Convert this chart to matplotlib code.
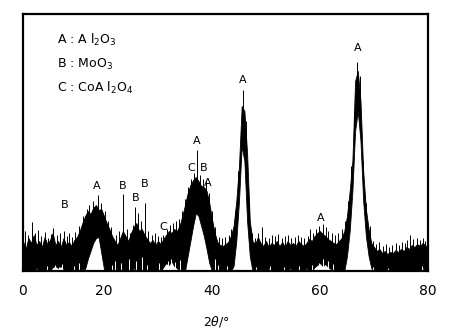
import numpy as np
import matplotlib
matplotlib.use('Agg')
import matplotlib.pyplot as plt

# 2theta grid (deg) and intensity envelopes
two_theta = np.arange(5.0, 80.5, 0.5)

upper = [30, 22, 33, 28, 36, 26, 30, 24, 34, 27,
         31, 38, 26, 30, 24, 33, 26, 29, 25, 31,
         34, 40, 48, 55, 60, 57, 63, 66, 61, 62,
         55, 48, 42, 35, 30, 26, 33, 40, 35, 30,
         38, 44, 48, 40, 42, 36, 32, 28, 31, 26,
         30, 27, 32, 36, 40, 38, 42, 40, 45, 55,
         66, 78, 86, 91, 94, 90, 85, 84, 80, 68,
         52, 38, 29, 26, 25, 27, 29, 35, 45, 70,
         105, 165, 160, 118, 50, 30, 27, 34, 28, 25,
         30, 24, 28, 26, 30, 25, 29, 24, 30, 26,
         28, 25, 30, 27, 25, 28, 32, 30, 35, 38,
         40, 37, 35, 32, 30, 28, 27, 30, 33, 40,
         55, 80, 110, 190, 200, 170, 100, 62, 42, 28,
         24, 20, 22, 18, 20, 17, 19, 18, 21, 19,
         22, 20, 24, 22, 26, 24, 27, 25, 28, 26,
         22]

lower = [0, 0, 2, 0, 0, 3, 0, 0, 1, 0,
         0, 4, 5, 3, 5, 2, 0, 0, 1, 0,
         0, 0, 2, 2, 12, 20, 28, 33, 34, 18,
         2, 0, 0, 0, 3, 0, 0, 2, 0, 0,
         0, 3, 0, 0, 2, 0, 0, 0, 2, 0,
         0, 0, 4, 8, 6, 10, 5, 3, 0, 0,
         0, 15, 30, 45, 58, 55, 45, 35, 22, 8,
         0, 0, 0, 0, 2, 0, 0, 0, 5, 30,
         70, 125, 110, 50, 15, 0, 0, 0, 2, 0,
         0, 3, 0, 0, 0, 2, 0, 0, 0, 3,
         0, 0, 2, 0, 0, 3, 0, 0, 4, 6,
         8, 5, 7, 4, 2, 0, 0, 0, 0, 0,
         15, 40, 80, 140, 160, 130, 70, 35, 15, 3,
         0, 0, 0, 0, 0, 0, 0, 2, 0, 0,
         0, 0, 0, 0, 0, 0, 0, 0, 3, 0,
         0]

# sharp spikes sticking out of the noise (position, top)
spike_pos = [5.3, 5.9, 6.7, 7.2, 7.8, 8.4, 9.1, 9.7, 10.2, 10.6, 11.3, 11.8, 12.6, 13.2, 13.5, 14.1, 14.7,
             15.4, 16.2, 16.8, 17.3, 17.9, 18.8, 19.4, 20.2, 20.8, 21.3,
             22.3, 22.8, 23.5, 24.2, 24.8, 25.3, 25.8, 26.3, 26.8, 27.6, 28.2, 28.8, 29.4, 30.0, 30.6, 31.0,
             31.6, 32.2, 32.8, 33.3, 33.9, 34.4, 35.0,
             35.6, 36.1, 36.6, 37.2, 37.8, 38.3, 38.9, 39.4, 40.0, 40.6, 41.3, 41.9, 42.5, 43.1, 43.6,
             44.3, 44.9, 45.7, 46.3, 46.9, 47.4,
             48.0, 48.6, 49.3, 49.9, 50.5, 51.1, 51.7, 52.3, 52.9, 53.5, 54.1, 54.7, 55.3, 55.9, 56.5,
             57.1, 57.7, 58.1, 58.7, 59.3, 59.9, 60.5, 61.1, 61.5, 62.2, 62.8, 63.4, 64.0,
             64.6, 65.2, 65.8, 66.3, 66.9, 67.4, 68.0, 68.6, 69.2,
             69.8, 70.4, 71.0, 71.6, 72.2, 72.8, 73.4, 74.0, 74.6, 75.2, 75.8, 76.2, 76.7, 77.3, 77.9,
             78.5, 79.0, 79.5]
spike_hi = [40, 36, 49, 38, 41, 35, 39, 33, 37, 43, 36, 38, 40, 35, 38, 34, 39,
            45, 55, 62, 66, 70, 76, 68, 60, 50, 44,
            36, 40, 77, 42, 38, 46, 64, 58, 50, 68, 40, 36, 38, 35, 34, 36,
            42, 46, 48, 50, 52, 60, 72,
            84, 92, 98, 121, 96, 92, 90, 78, 60, 44, 34, 33, 34, 36, 42,
            60, 100, 181, 150, 70, 38,
            33, 38, 44, 34, 33, 36, 35, 37, 33, 35, 36, 33, 34, 36, 34,
            33, 35, 42, 38, 42, 45, 47, 44, 40, 38, 36, 38, 42,
            50, 70, 105, 160, 209, 195, 110, 68, 45,
            30, 27, 29, 25, 27, 24, 26, 28, 26, 29, 28, 31, 36, 32, 33,
            31, 33, 30]

# white slits near the baseline (position, height)
gap_pos = [9.4, 11.0, 11.7, 12.3, 14.5, 15.3, 21.5, 22.0, 23.2, 24.6, 26.0, 27.0, 28.0,
           30.2, 31.8, 32.5, 33.2, 34.0, 40.6, 41.2, 42.8, 44.0, 48.2, 50.8, 53.4, 56.2,
           58.6, 59.8, 60.6, 61.4, 62.4, 69.9, 72.6, 78.8]
gap_hi = [5, 6, 4, 7, 5, 8, 6, 10, 8, 12, 10, 14, 6,
          8, 10, 12, 9, 11, 12, 6, 5, 4, 4, 5, 4, 5,
          6, 8, 12, 10, 7, 4, 3, 5]

# phase markers
mark_text = ['B', 'A', 'B', 'B', 'B', 'C', 'C', 'B', 'A', 'A', 'A', 'A', 'A']
mark_x = [12.8, 18.7, 23.5, 25.9, 27.6, 30.9, 36.1, 38.5, 37.2, 39.3, 45.7, 60.2, 67.0]
mark_y = [66, 85, 85, 73, 87, 44, 103, 103, 130, 88, 191, 53, 223]

legend_lines = ['A : A l$_2$O$_3$', 'B : MoO$_3$', 'C : CoA l$_2$O$_4$']

fig = plt.figure(figsize=(4.68, 3.34), dpi=100)
ax = fig.add_axes([0.0491, 0.1886, 0.8654, 0.7695])

ax.fill_between(two_theta, lower, upper, color='black', linewidth=0.6, edgecolor='black')
# spikes rise from the top of the noise band, so peak interiors stay white
spike_base = np.interp(spike_pos, two_theta, upper) * 0.85
ax.vlines(spike_pos, spike_base, spike_hi, color='black', linewidth=0.7)
ax.vlines(gap_pos, 0, gap_hi, color='white', linewidth=0.7)

for t, x, y in zip(mark_text, mark_x, mark_y):
    ax.text(x, y, t, fontsize=8, ha='center', va='center')

for i, s in enumerate(legend_lines):
    ax.text(0.084, 0.899 - i * 0.094, s, transform=ax.transAxes,
            fontsize=9, ha='left', va='center')

ax.set_xlim(5, 80)
ax.set_ylim(0, 257)
ax.set_xticks([5, 20, 40, 60, 80])
ax.set_xticklabels(['0', '20', '40', '60', '80'], fontsize=10)
ax.tick_params(axis='x', length=0, pad=9)
ax.set_yticks([])
for sp in ax.spines.values():
    sp.set_linewidth(1.6)
    sp.set_zorder(5)

ax.set_xlabel(r'2$\theta$/°', fontsize=9)
ax.xaxis.set_label_coords(0.477, -0.167)

fig.savefig('out.png', dpi=100)
